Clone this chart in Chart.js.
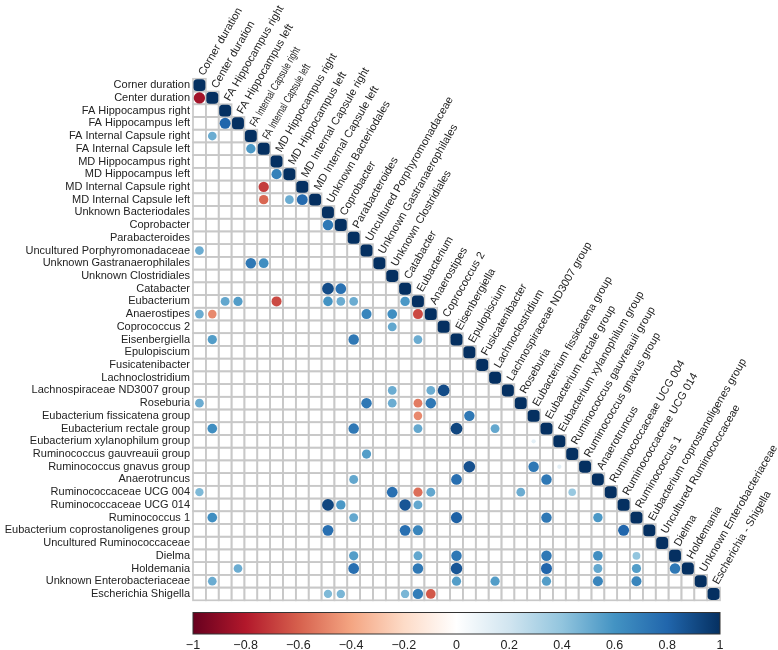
<!DOCTYPE html>
<html>
<head>
<meta charset="utf-8">
<script src="https://cdn.jsdelivr.net/npm/chart.js@4.4.0/dist/chart.umd.min.js"></script>
<style>
  html, body { margin: 0; padding: 0; background: #fff; }
</style>
</head>
<body>
<canvas id="corrChart" width="778" height="650"></canvas>
<script>
const rowLabels = [
  'Corner duration', 'Center duration', 'FA Hippocampus right', 'FA Hippocampus left',
  'FA Internal Capsule right', 'FA Internal Capsule left', 'MD Hippocampus right', 'MD Hippocampus left',
  'MD Internal Capsule right', 'MD Internal Capsule left', 'Unknown Bacteriodales', 'Coprobacter',
  'Parabacteroides', 'Uncultured Porphyromonadaceae', 'Unknown Gastranaerophilales', 'Unknown Clostridiales',
  'Catabacter', 'Eubacterium', 'Anaerostipes', 'Coprococcus 2', 'Eisenbergiella', 'Epulopiscium',
  'Fusicatenibacter', 'Lachnoclostridium', 'Lachnospiraceae ND3007 group', 'Roseburia',
  'Eubacterium fissicatena group', 'Eubacterium rectale group', 'Eubacterium xylanophilum group',
  'Ruminococcus gauvreauii group', 'Ruminococcus gnavus group', 'Anaerotruncus',
  'Ruminococcaceae UCG 004', 'Ruminococcaceae UCG 014', 'Ruminococcus 1',
  'Eubacterium coprostanoligenes group', 'Uncultured Ruminococcaceae', 'Dielma', 'Holdemania',
  'Unknown Enterobacteriaceae', 'Escherichia Shigella'
];
// column labels are the same, only the last one is written differently on top
const colLabels = rowLabels.slice(0, 40).concat(['Escherichia - Shigella']);
// these two column names are squeezed in the original
const condensedCols = [4, 5];

// [row, column, r]  (1-based, lower triangle, diagonal is 1)
const corrCells = [
  [2, 1, -0.84],
  [4, 3, 0.8],
  [5, 2, 0.5],
  [6, 5, 0.58],
  [8, 7, 0.68],
  [9, 6, -0.7],
  [10, 6, -0.58], [10, 8, 0.5], [10, 9, 0.78],
  [12, 11, 0.72],
  [14, 1, 0.5],
  [15, 5, 0.72], [15, 6, 0.62],
  [17, 11, 0.9], [17, 12, 0.75],
  [18, 3, 0.52], [18, 4, 0.56], [18, 7, -0.66], [18, 11, 0.6], [18, 12, 0.5], [18, 13, 0.5], [18, 17, 0.58],
  [19, 1, 0.5], [19, 2, -0.48], [19, 14, 0.66], [19, 16, 0.62], [19, 18, -0.66],
  [20, 16, 0.52],
  [21, 2, 0.56], [21, 13, 0.72], [21, 18, 0.5],
  [25, 16, 0.5], [25, 19, 0.5], [25, 20, 0.9],
  [26, 1, 0.5], [26, 14, 0.72], [26, 16, 0.5], [26, 18, -0.52], [26, 19, 0.72],
  [27, 18, -0.48], [27, 22, 0.72],
  [28, 2, 0.62], [28, 13, 0.72], [28, 18, 0.52], [28, 21, 0.92], [28, 24, 0.52],
  [29, 27, 0.12],
  [30, 14, 0.56],
  [31, 22, 0.88], [31, 27, 0.72], [31, 29, 0.12],
  [32, 13, 0.52], [32, 21, 0.76], [32, 28, 0.72],
  [33, 1, 0.45], [33, 16, 0.76], [33, 18, -0.56], [33, 19, 0.52], [33, 26, 0.5], [33, 30, 0.38],
  [34, 11, 0.92], [34, 12, 0.58], [34, 17, 0.86], [34, 18, 0.52],
  [35, 2, 0.62], [35, 13, 0.52], [35, 21, 0.82], [35, 28, 0.72], [35, 32, 0.58],
  [36, 11, 0.76], [36, 17, 0.76], [36, 18, 0.66], [36, 34, 0.8],
  [38, 13, 0.56], [38, 18, 0.52], [38, 21, 0.72], [38, 28, 0.72], [38, 32, 0.62], [38, 35, 0.4],
  [39, 4, 0.5], [39, 13, 0.76], [39, 18, 0.72], [39, 21, 0.86], [39, 28, 0.8], [39, 32, 0.52], [39, 35, 0.56], [39, 38, 0.72],
  [40, 2, 0.5], [40, 21, 0.56], [40, 24, 0.56], [40, 28, 0.56], [40, 32, 0.66], [40, 35, 0.66],
  [41, 11, 0.45], [41, 12, 0.46], [41, 17, 0.46], [41, 18, 0.7], [41, 19, -0.62]
];

const colorbarTicks = [-1, -0.8, -0.6, -0.4, -0.2, 0, 0.2, 0.4, 0.6, 0.8, 1];

// RdBu ramp, -1 .. 1
const rdbu = ['#67001F', '#B2182B', '#D6604D', '#F4A582', '#FDDBC7', '#FFFFFF',
              '#D1E5F0', '#92C5DE', '#4393C3', '#2166AC', '#053061'];

function hexRgb(h) {
  return [parseInt(h.slice(1, 3), 16), parseInt(h.slice(3, 5), 16), parseInt(h.slice(5, 7), 16)];
}
function corrColor(v) {
  const t = (v + 1) / 2 * (rdbu.length - 1);
  const i = Math.min(rdbu.length - 2, Math.floor(t));
  const f = t - i;
  const a = hexRgb(rdbu[i]), b = hexRgb(rdbu[i + 1]);
  const c = a.map((x, k) => Math.round(x + (b[k] - x) * f));
  return 'rgb(' + c.join(',') + ')';
}
function cellW(chart) {
  const s = chart.scales.x;
  return Math.abs(s.getPixelForValue(1) - s.getPixelForValue(0));
}
// circle area follows |r|
function circleR(ctx) {
  if (!ctx.raw) return 0;
  return cellW(ctx.chart) * 0.48 * Math.sqrt(Math.abs(ctx.raw.v));
}

const offDiag = corrCells.map(([r, c, v]) => ({ x: c - 1, y: r - 1, v: v }));
const diagCells = rowLabels.map((_, i) => ({ x: i, y: i, v: 1 }));

const TEXT = '#222';
const FONT = 'Liberation Sans, Arial, Helvetica, sans-serif';

// grey grid for the lower triangle
const gridPlugin = {
  id: 'triGrid',
  beforeDatasetsDraw(chart) {
    const { ctx } = chart;
    const xs = chart.scales.x, ys = chart.scales.y;
    ctx.save();
    ctx.strokeStyle = '#c8c8c8';
    ctx.lineWidth = 1.7;
    for (let i = 0; i < rowLabels.length; i++) {
      for (let j = 0; j <= i; j++) {
        const x0 = xs.getPixelForValue(j - 0.5), x1 = xs.getPixelForValue(j + 0.5);
        const y0 = ys.getPixelForValue(i - 0.5), y1 = ys.getPixelForValue(i + 0.5);
        ctx.strokeRect(x0, y0, x1 - x0, y1 - y0);
      }
    }
    ctx.restore();
  }
};

// rotated column names along the diagonal
const topLabelPlugin = {
  id: 'topLabels',
  afterDraw(chart) {
    const { ctx } = chart;
    const xs = chart.scales.x, ys = chart.scales.y;
    const ang = 60 * Math.PI / 180;
    ctx.save();
    ctx.fillStyle = TEXT;
    ctx.font = '11px ' + FONT;
    ctx.textAlign = 'left';
    ctx.textBaseline = 'middle';
    colLabels.forEach((lab, j) => {
      const x = xs.getPixelForValue(j);
      const y = ys.getPixelForValue(j - 0.5);
      ctx.save();
      ctx.translate(x + 2, y - 4);
      ctx.rotate(-ang);
      if (condensedCols.includes(j)) ctx.scale(0.74, 1);
      ctx.fillText(lab, 0, 0);
      ctx.restore();
    });
    ctx.restore();
  }
};

// colour bar drawn on the cb scale
const colorbarPlugin = {
  id: 'colorbar',
  afterDraw(chart) {
    const { ctx } = chart;
    const s = chart.scales.cb;
    const x0 = s.getPixelForValue(-1), x1 = s.getPixelForValue(1);
    const top = s.top + 12.2, h = 21.5;
    const g = ctx.createLinearGradient(x0, 0, x1, 0);
    rdbu.forEach((c, i) => g.addColorStop(i / (rdbu.length - 1), c));
    ctx.save();
    ctx.fillStyle = g;
    ctx.fillRect(x0, top, x1 - x0, h);
    ctx.strokeStyle = '#333';
    ctx.lineWidth = 1;
    ctx.strokeRect(x0, top, x1 - x0, h);
    ctx.restore();
  }
};

const chart = new Chart(document.getElementById('corrChart'), {
  type: 'scatter',
  data: {
    datasets: [
      {
        data: offDiag,
        pointStyle: 'circle',
        pointRadius: circleR,
        pointHoverRadius: circleR,
        backgroundColor: ctx => ctx.raw ? corrColor(ctx.raw.v) : '#fff',
        borderWidth: 0
      },
      {
        data: diagCells,
        pointStyle: 'rectRounded',
        pointRadius: ctx => cellW(ctx.chart) * 0.54,
        pointHoverRadius: ctx => cellW(ctx.chart) * 0.54,
        backgroundColor: corrColor(1),
        borderWidth: 0
      }
    ]
  },
  options: {
    responsive: false,
    animation: false,
    events: [],
    layout: { padding: { left: 0, top: 78.8, right: 58, bottom: 0 } },
    plugins: { legend: { display: false }, tooltip: { enabled: false } },
    scales: {
      x: { type: 'linear', min: -0.5, max: 40.5, display: false },
      y: {
        type: 'linear', min: -0.5, max: 40.5, reverse: true,
        afterBuildTicks: s => { s.ticks = rowLabels.map((_, i) => ({ value: i })); },
        afterFit: s => { s.width = 193; },
        ticks: {
          autoSkip: false, padding: 3, color: TEXT,
          font: { family: FONT, size: 11 },
          callback: v => rowLabels[v]
        },
        grid: { display: false, drawTicks: false },
        border: { display: false }
      },
      cb: {
        type: 'linear', position: 'bottom', min: -1, max: 1,
        afterBuildTicks: s => { s.ticks = colorbarTicks.map(v => ({ value: v })); },
        afterFit: s => { s.height = 49.7; },
        ticks: {
          autoSkip: false, maxRotation: 0, padding: 37.5, color: TEXT,
          font: { family: FONT, size: 12.5 },
          callback: v => {
            const a = parseFloat(Math.abs(v).toFixed(1));
            return (v < 0 ? '\u2212' : '') + a;
          }
        },
        grid: { display: false, drawTicks: false },
        border: { display: false }
      }
    }
  },
  plugins: [gridPlugin, topLabelPlugin, colorbarPlugin]
});
</script>
</body>
</html>
